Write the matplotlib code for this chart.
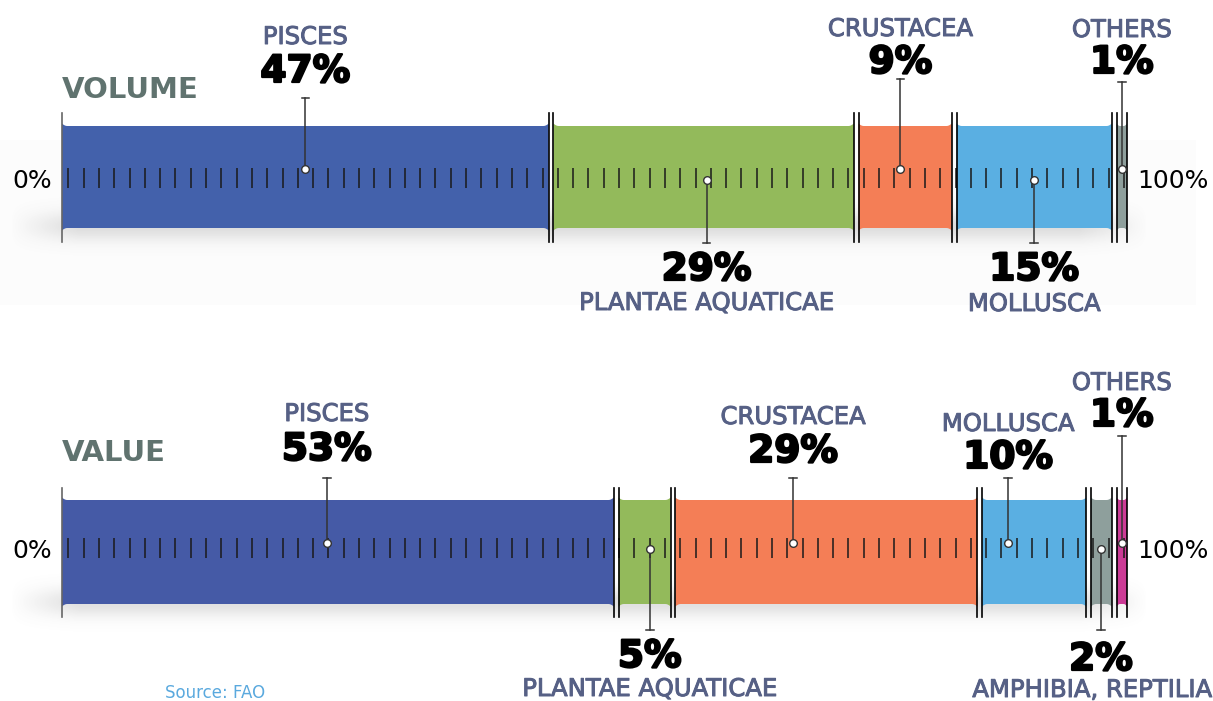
import numpy as np
import matplotlib.pyplot as plt
import matplotlib.patheffects as pe
from matplotlib.patches import Polygon, Rectangle

# data
vol_names = ['PISCES', 'PLANTAE AQUATICAE', 'CRUSTACEA', 'MOLLUSCA', 'OTHERS']
vol_pct = [47, 29, 9, 15, 1]
vol_colors = ['#4361ab', '#93ba5b', '#f47e56', '#5aafe2', '#8e9f9c']
vol_side = ['up', 'down', 'up', 'down', 'up']

val_names = ['PISCES', 'PLANTAE AQUATICAE', 'CRUSTACEA', 'MOLLUSCA',
             'AMPHIBIA, REPTILIA', 'OTHERS']
val_pct = [53, 5, 29, 10, 2, 1]
val_colors = ['#455aa6', '#93ba5b', '#f47e56', '#5aafe2', '#8e9f9c', '#cc3b96']
val_side = ['up', 'down', 'up', 'up', 'down', 'up']

# layout: where the pointer sits inside each segment, and label heights (px)
vol_anchor = [0.5, 0.51, 0.45, 0.5, 0.5]
vol_cap = [98, 243, 79, 243, 82]
vol_pct_y = [72, 270, 63, 270, 63]
vol_cat_y = [37, 303, 29, 304, 30]
val_anchor = [0.48, 0.6, 0.39, 0.25, 0.48, 0.5]
val_cap = [478, 630, 478, 478, 630, 436]
val_pct_y = [450, 657, 452, 458, 660, 416]
val_cat_y = [414, 689, 417, 424, 690, 383]

W, H = 1213, 701
X0, XW = 62, 1065  # pixel position of 0% and width of 100%
GAP = 0.45

LABEL = '#566085'
TITLE = '#60736f'
LINE = '#333333'

fig = plt.figure(figsize=(W / 100, H / 100), dpi=100)
ax = fig.add_axes([0, 0, 1, 1])
ax.axis('off')
xl = (-X0 / XW * 100, (W - X0) / XW * 100)
right_lim = (1092 - X0) / XW * 100


def seg_shape(x0, x1, t, b):
    fw = min(0.5, (x1 - x0) / 3)
    fh = 2.5
    s = np.linspace(0, 1, 8)
    top_l = np.c_[x0 + fw * s, t - fh * (1 - s) ** 2]
    top_r = np.c_[x1 - fw * (1 - s), t - fh * s ** 2]
    bot_r = np.c_[x1 - fw * s, b + fh * (1 - s) ** 2]
    bot_l = np.c_[x0 + fw * (1 - s), b + fh * s ** 2]
    return np.vstack([top_l, top_r, bot_r, bot_l])


def shadow(yc, x0, x1, h):
    xs = np.linspace(0, 1, 400)
    ys = np.linspace(-1, 1, 80)
    X, Y = np.meshgrid(xs, ys)
    edge = np.clip(np.minimum(X, 1 - X) / 0.06, 0, 1)
    a = 0.22 * np.exp(-(Y * 2.0) ** 2) * edge
    img = np.zeros(X.shape + (4,))
    img[..., :3] = 0.45
    img[..., 3] = a
    ax.imshow(img, extent=(x0, x1, yc + h, yc - h), aspect='auto',
              zorder=1, interpolation='bilinear')


def draw_bar(title, title_y, names, pct, colors, side, anchor, caps, pct_y,
             cat_y, top, bot, sep, tk, dot_up, dot_dn):
    n = len(pct)
    unit = (100 - GAP * (n - 1)) / sum(pct)
    shadow(bot - 2, -5, 102, 30)
    x = 0.0
    for i in range(n):
        x1 = x + pct[i] * unit
        if i == n - 1:
            x1 = 100
        ax.add_patch(Polygon(seg_shape(x, x1, top, bot), closed=True,
                             fc=colors[i], ec='none', zorder=2))
        ax.plot([x, x], sep, color='#666666' if i == 0 else 'black',
                lw=1.2, zorder=4)
        ax.plot([x1, x1], sep, color='black', lw=1.2, zorder=4)
        xm = x + (x1 - x) * anchor[i]
        dy = dot_up if side[i] == 'up' else dot_dn
        ax.plot([xm, xm], [dy, caps[i]], color=LINE, lw=1.1, zorder=5)
        ax.plot([xm - 0.35, xm + 0.35], [caps[i], caps[i]], color=LINE,
                lw=1.1, zorder=5)
        ax.plot(xm, dy, 'o', ms=5.5, mfc='white', mec=LINE, mew=1.0, zorder=6)
        xt = xm if side[i] == 'up' else min(xm, right_lim)
        ax.text(xm, pct_y[i], f'{pct[i]}%', ha='center', va='center',
                fontsize=27, fontweight='bold', color='black',
                path_effects=[pe.withStroke(linewidth=1.6, foreground='black')])
        ax.text(xt, cat_y[i], names[i], ha='center', va='center',
                fontsize=17.5, color=LABEL,
                path_effects=[pe.withStroke(linewidth=0.7, foreground=LABEL)])
        x = x1 + GAP
    ticks = np.linspace(0.6, 99.7, 70)
    ax.vlines(ticks, tk[0], tk[1], color='#1a1a1a', lw=1.1, zorder=3)
    mid = (tk[0] + tk[1]) / 2 + 3
    ax.text(-0.9, mid, '0%', ha='right', va='center', fontsize=18,
            color='black')
    ax.text(1.0 + 100, mid, '100%', ha='left', va='center', fontsize=18,
            color='black')
    ax.text(0, title_y, title, ha='left', va='center', fontsize=21,
            fontweight='bold', color=TITLE)


# faint grey band behind the volume bar
ax.add_patch(Rectangle((xl[0], 140), 1196 / XW * 100, 165,
                       fc='#fcfcfc', ec='none', zorder=0))

draw_bar('VOLUME', 90, vol_names, vol_pct, vol_colors, vol_side, vol_anchor,
         vol_cap, vol_pct_y, vol_cat_y,
         top=126, bot=228, sep=(113, 242), tk=(168, 188),
         dot_up=169, dot_dn=180)
draw_bar('VALUE', 453, val_names, val_pct, val_colors, val_side, val_anchor,
         val_cap, val_pct_y, val_cat_y,
         top=500, bot=604, sep=(488, 617), tk=(538, 558),
         dot_up=543, dot_dn=549)

ax.text((165 - X0) / XW * 100, 684, 'Source: FAO', ha='left', va='top',
        fontsize=12, color='#5aa9de')

ax.set_xlim(xl)
ax.set_ylim(H, 0)
fig.savefig('out.png', dpi=100)
